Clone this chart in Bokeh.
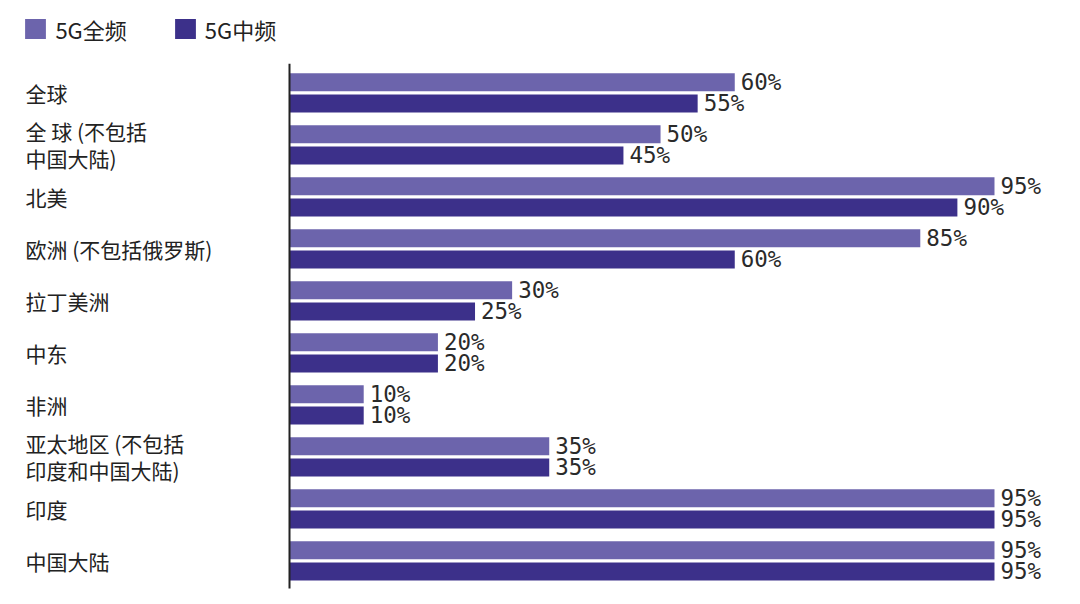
from bokeh.plotting import figure
from bokeh.models import Range1d, Legend, LegendItem
from bokeh.embed import file_html
from bokeh.resources import INLINE
from bokeh.core.properties import value

# ---- data ----
regions = ["全球", "全 球 (不包括\n中国大陆)", "北美", "欧洲 (不包括俄罗斯)", "拉丁美洲",
           "中东", "非洲", "亚太地区 (不包括\n印度和中国大陆)", "印度", "中国大陆"]
full_band = [60, 50, 95, 85, 30, 20, 10, 35, 95, 95]
mid_band = [55, 45, 90, 60, 25, 20, 10, 35, 95, 95]
series_names = ["5G全频", "5G中频"]

# ---- layout constants ----
W, H = 1064, 596
PX_PER_PCT = 7.421
X0_PX = 289
GROUP_PX = 52
FIRST_CENTER_PX = 92.3
LIGHT = "#6c64ac"
DARK = "#3c308a"

idx = list(range(len(regions)))
off = 10.6 / GROUP_PX
bh = 18 / GROUP_PX

p = figure(width=W, height=H, output_backend="svg", toolbar_location=None,
           x_range=Range1d(-X0_PX / PX_PER_PCT, (W - X0_PX) / PX_PER_PCT),
           y_range=Range1d(start=(H - FIRST_CENTER_PX) / GROUP_PX, end=-FIRST_CENTER_PX / GROUP_PX),
           min_border=0)
p.axis.visible = False
p.grid.visible = False
p.outline_line_color = None
p.background_fill_color = "white"

y_full = [i - off for i in idx]
y_mid = [i + off for i in idx]

r1 = p.hbar(y=y_full, left=0, right=full_band, height=bh, fill_color=LIGHT, line_color=None)
r2 = p.hbar(y=y_mid, left=0, right=mid_band, height=bh, fill_color=DARK, line_color=None)

# axis line
p.segment(x0=[0], x1=[0], y0=[(63.3 - FIRST_CENTER_PX) / GROUP_PX], y1=[(588 - FIRST_CENTER_PX) / GROUP_PX],
          line_color="#222222", line_width=2)

# value labels
p.text(x=full_band, y=y_full, text=[f"{v}%" for v in full_band], x_offset=6,
       text_baseline="middle", text_align="left", text_font=value("DejaVu Sans Mono"),
       text_font_size="22.5px", text_color="#2a2a2a")
p.text(x=mid_band, y=y_mid, text=[f"{v}%" for v in mid_band], x_offset=6,
       text_baseline="middle", text_align="left", text_font=value("DejaVu Sans Mono"),
       text_font_size="22.5px", text_color="#2a2a2a")

# category labels
label_x = (25 - X0_PX) / PX_PER_PCT
p.text(x=[label_x] * len(regions), y=idx, text=regions, text_baseline="middle", text_align="left",
       text_font=value("Noto Sans CJK SC"), text_font_size="21px", text_color="#222222",
       text_line_height=0.89)

legend = Legend(items=[LegendItem(label=series_names[0], renderers=[r1]),
                       LegendItem(label=series_names[1], renderers=[r2])],
                orientation="horizontal", location=(22.4, H - 19.5 - 25),
                glyph_width=26, glyph_height=25, label_standoff=7, spacing=45,
                padding=0, margin=0, border_line_color=None, background_fill_alpha=0,
                label_text_font="Noto Sans CJK SC", label_text_font_size="22px",
                label_text_color="#222222")
p.add_layout(legend)

open("out.html", "w").write(file_html(p, INLINE))
